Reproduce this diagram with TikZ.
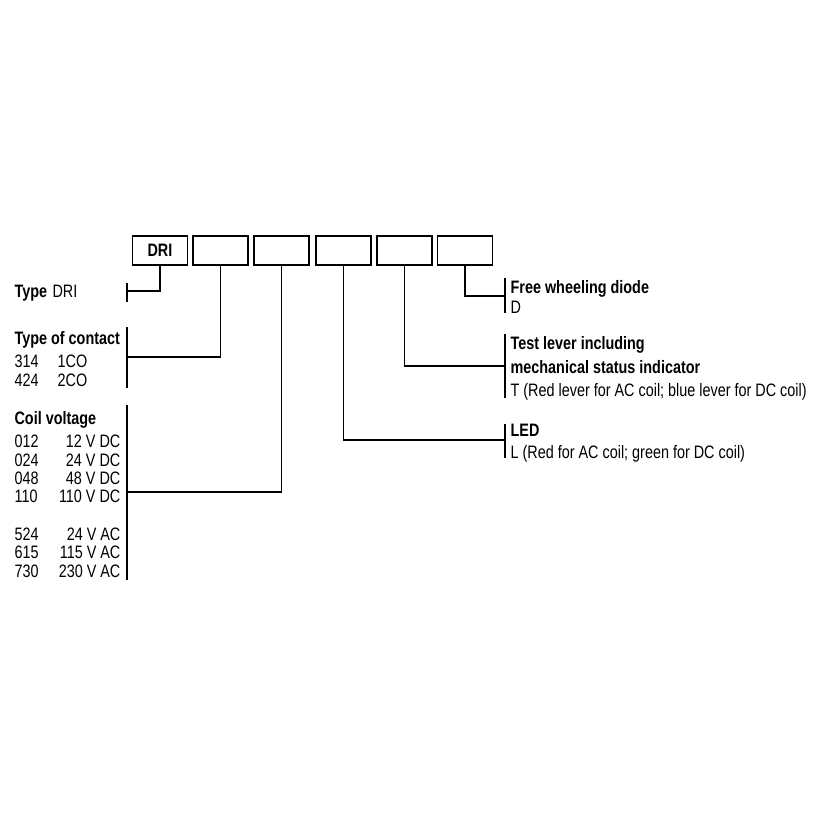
\documentclass[tikz,border=0pt]{standalone}
\usepackage{fontspec}
\setmainfont[FakeStretch=0.8]{Liberation Sans}
\begin{document}
\begin{tikzpicture}[x=1pt,y=-1pt,line width=1.2pt,
 bx/.style={draw,minimum width=55pt,minimum height=29pt,inner sep=0pt,line width=1.3pt},
 t/.style={anchor=base west,inner sep=0pt,yshift=-6.5pt,font=\fontsize{18}{20}\selectfont},
 tb/.style={t,font=\fontsize{18}{20}\selectfont\bfseries},
 r/.style={anchor=base east,inner sep=0pt,yshift=-6.5pt,font=\fontsize{18}{20}\selectfont}]
\useasboundingbox (0,0) rectangle (820,820);
\node[bx,font=\fontsize{18}{20}\selectfont\bfseries] (b1) at (160,250.5) {DRI};
\node[bx] (b2) at (220.5,250.5) {};
\node[bx] (b3) at (281.5,250.5) {};
\node[bx] (b4) at (343.5,250.5) {};
\node[bx] (b5) at (404.5,250.5) {};
\node[bx] (b6) at (465,250.5) {};
% left brackets
\draw (127,283) -- (127,302);
\draw (127,291) -| (b1.south);
\draw (127,327) -- (127,388);
\draw (127,357) -| (b2.south);
\draw (127,405) -- (127,580);
\draw (127,492) -| (b3.south);
% right brackets
\draw (505,278) -- (505,313);
\draw (b6.south) |- (505,296);
\draw (505,334) -- (505,398);
\draw (b5.south) |- (505,366);
\draw (505,424) -- (505,458);
\draw (b4.south) |- (505,440);
% left texts
\node[tb] (ty) at (14,291) {Type};
\node[t] (tyv) at (52,291) {DRI};
\node[tb] (tc) at (14,338) {Type of contact};
\node[t] (c1) at (14,361) {314};
\node[t] (c1v) at (57,361) {1CO};
\node[t] (c2) at (14,380) {424};
\node[t] (c2v) at (57,380) {2CO};
\node[tb] (cv) at (14,418) {Coil voltage};
\foreach \y/\a/\b [count=\i] in {441/012/12 V DC,460/024/24 V DC,478/048/48 V DC,496/110/110 V DC,534/524/24 V AC,552/615/115 V AC,571/730/230 V AC}{
 \node[t] (n\i) at (14,\y) {\a};
 \node[r] (v\i) at (121,\y) {\b};}
% right texts
\node[tb] (fw) at (510,287) {Free wheeling diode};
\node[t] (fwd) at (510,307) {D};
\node[tb] (tl1) at (510,343) {Test lever including};
\node[tb] (tl2) at (510,367) {mechanical status indicator};
\node[t] (tl3) at (510,390) {T (Red lever for AC coil; blue lever for DC coil)};
\node[tb] (led) at (510,430) {LED};
\node[t] (ledv) at (510,452) {L (Red for AC coil; green for DC coil)};
\end{tikzpicture}
\end{document}
